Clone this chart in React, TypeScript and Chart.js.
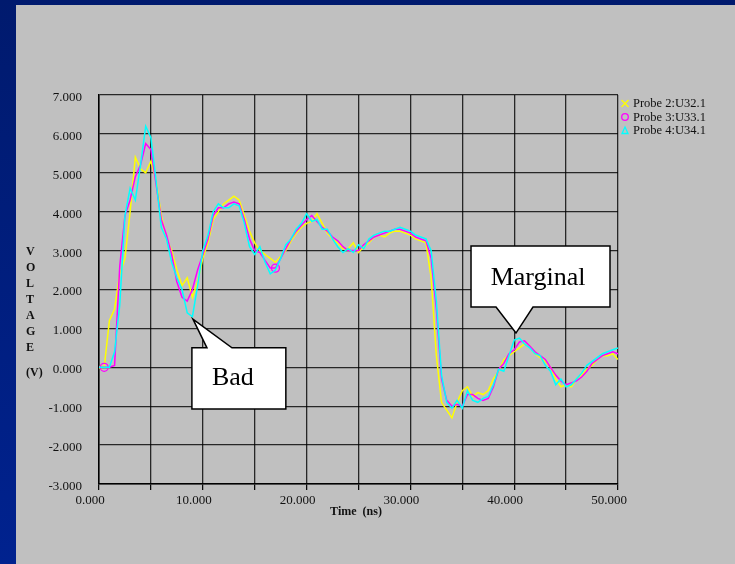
import React, { useEffect, useRef } from 'react';
import { Chart, registerables } from 'chart.js';
Chart.register(...registerables);

const FONT = '"Liberation Serif", "Times New Roman", serif';

const timeNs = [
  0, 0.5, 1, 1.5, 2, 2.5, 3, 3.5, 4, 4.5, 5, 5.5, 6, 6.5, 7, 7.5, 8, 8.5, 9, 9.5,
  10, 10.5, 11, 11.5, 12, 12.5, 13, 13.5, 14, 14.5, 15, 15.5, 16, 16.5, 17, 17.5, 18, 18.5, 19, 19.5,
  20, 20.5, 21, 21.5, 22, 22.5, 23, 23.5, 24, 24.5, 25, 25.5, 26, 26.5, 27, 27.5, 28, 28.5, 29, 29.5,
  30, 30.5, 31, 31.5, 32, 32.5, 33, 33.5, 34, 34.5, 35, 35.5, 36, 36.5, 37, 37.5, 38, 38.5, 39, 39.5,
  40, 40.5, 41, 41.5, 42, 42.5, 43, 43.5, 44, 44.5, 45, 45.5, 46, 46.5, 47, 47.5, 48, 48.5, 49, 49.5, 50,
];

const probe2 = [
  0.0, 0.0, 1.2, 1.5, 2.4, 2.8, 4.0, 5.4, 5.1, 5.0, 5.3, 4.8, 3.9, 3.3, 3.0, 2.5, 2.1, 2.3, 1.8, 2.2,
  2.8, 3.2, 3.8, 4.0, 4.2, 4.3, 4.4, 4.3, 3.9, 3.5, 3.2, 3.0, 2.9, 2.8, 2.7, 2.85, 3.0, 3.25, 3.45, 3.6,
  3.7, 3.75, 3.95, 3.7, 3.45, 3.3, 3.2, 3.05, 3.05, 3.2, 2.95, 3.1, 3.2, 3.35, 3.4, 3.35, 3.45, 3.5, 3.5, 3.45,
  3.4, 3.3, 3.25, 3.2, 2.3, 0.3, -0.9, -1.1, -1.3, -0.9, -0.6, -0.5, -0.75, -0.65, -0.7, -0.6, -0.3, -0.1, 0.2, 0.3,
  0.4, 0.5, 0.6, 0.55, 0.35, 0.25, 0.15, 0.0, -0.3, -0.5, -0.45, -0.5, -0.3, -0.2, -0.05, 0.05, 0.2, 0.3, 0.3, 0.35, 0.2,
];

const probe3 = [
  0.0, 0.0, 0.0, 0.05, 2.6, 3.9, 4.3, 4.9, 5.2, 5.75, 5.6, 4.7, 3.8, 3.4, 2.9, 2.2, 1.8, 1.7, 2.0, 2.5,
  2.9, 3.3, 3.9, 4.1, 4.1, 4.2, 4.25, 4.2, 3.8, 3.3, 3.0, 2.95, 2.75, 2.55, 2.55, 2.8, 3.05, 3.3, 3.5, 3.65,
  3.8, 3.9, 3.75, 3.6, 3.5, 3.35, 3.25, 3.1, 3.0, 3.0, 3.0, 3.15, 3.25, 3.35, 3.4, 3.45, 3.5, 3.55, 3.55, 3.5,
  3.45, 3.35, 3.3, 3.25, 2.8, 1.5, -0.3, -0.85, -1.0, -0.95, -1.0, -0.7, -0.7, -0.8, -0.85, -0.8, -0.5, -0.05, 0.1, 0.35,
  0.45, 0.65, 0.68, 0.55, 0.4, 0.3, 0.2, 0.0, -0.2, -0.35, -0.45, -0.4, -0.35, -0.25, -0.1, 0.1, 0.2, 0.3, 0.35, 0.4, 0.35,
];

const probe4 = [
  0.0, 0.0, 0.0, 0.4, 1.6, 3.9, 4.6, 4.3, 5.2, 6.2, 5.9, 4.8, 3.6, 3.3, 2.7, 2.3, 2.0, 1.4, 1.3, 2.1,
  3.0, 3.4, 4.0, 4.2, 4.1, 4.1, 4.2, 4.15, 3.7, 3.1, 2.9, 3.1, 2.7, 2.4, 2.5, 2.8, 3.15, 3.3, 3.55, 3.7,
  3.95, 3.75, 3.8, 3.55, 3.55, 3.3, 3.1, 2.95, 3.05, 2.95, 3.15, 3.05, 3.3, 3.4, 3.45, 3.5, 3.5, 3.55, 3.6, 3.55,
  3.5, 3.4, 3.35, 3.3, 3.0, 1.7, -0.2, -0.9, -1.05, -0.85, -1.05, -0.6, -0.85, -0.9, -0.8, -0.75, -0.45, -0.05, -0.1, 0.3,
  0.7, 0.75, 0.6, 0.5, 0.35, 0.3, 0.05, -0.1, -0.45, -0.3, -0.5, -0.45, -0.3, -0.15, 0.05, 0.15, 0.25, 0.35, 0.4, 0.45, 0.5,
];

const seriesNames = ['Probe 2:U32.1', 'Probe 3:U33.1', 'Probe 4:U34.1'];
const seriesColors = ['#ffff00', '#ff00ff', '#00ffff'];
const probe2MarkerIdx = [0];
const probe3MarkerIdx = [1, 34];

const yTitleLetters = ['V', 'O', 'L', 'T', 'A', 'G', 'E'];
const yTitleUnit = '(V)';
const xTitle = 'Time  (ns)';

const callouts = [
  { text: 'Bad', side: 'top', x0: 8.95, x1: 18.0, yTop: 0.5, yBot: -1.07, tipX: 9.05, tipY: 1.24, base0: 10.4, base1: 12.81, textX: 12.9, textY: -0.46 },
  { text: 'Marginal', side: 'bottom', x0: 35.84, x1: 49.23, yTop: 3.12, yBot: 1.55, tipX: 40.17, tipY: 0.88, base0: 38.25, base1: 41.81, textX: 42.3, textY: 2.12 },
];

const toPoints = (vals: number[]) => vals.map((v, i) => ({ x: timeNs[i], y: v }));

const overlay = {
  id: 'overlay',
  afterDatasetsDraw(chart: any) {
    const c = chart.ctx as CanvasRenderingContext2D;
    const xs = chart.scales.x;
    const ys = chart.scales.y;
    c.save();
    for (const a of callouts) {
      const L = xs.getPixelForValue(a.x0);
      const R = xs.getPixelForValue(a.x1);
      const T = ys.getPixelForValue(a.yTop);
      const B = ys.getPixelForValue(a.yBot);
      const b0 = xs.getPixelForValue(a.base0);
      const b1 = xs.getPixelForValue(a.base1);
      const tx = xs.getPixelForValue(a.tipX);
      const ty = ys.getPixelForValue(a.tipY);
      c.beginPath();
      if (a.side === 'top') {
        c.moveTo(L, T);
        c.lineTo(b0, T);
        c.lineTo(tx, ty);
        c.lineTo(b1, T);
        c.lineTo(R, T);
        c.lineTo(R, B);
        c.lineTo(L, B);
      } else {
        c.moveTo(L, T);
        c.lineTo(R, T);
        c.lineTo(R, B);
        c.lineTo(b1, B);
        c.lineTo(tx, ty);
        c.lineTo(b0, B);
        c.lineTo(L, B);
      }
      c.closePath();
      c.fillStyle = '#ffffff';
      c.fill();
      c.strokeStyle = '#000';
      c.lineWidth = 1.5;
      c.lineJoin = 'miter';
      c.stroke();
      c.fillStyle = '#000';
      c.font = `26px ${FONT}`;
      c.textAlign = 'center';
      c.textBaseline = 'alphabetic';
      c.fillText(a.text, xs.getPixelForValue(a.textX), ys.getPixelForValue(a.textY));
    }
    c.restore();
  },
  afterDraw(chart: any) {
    const c = chart.ctx as CanvasRenderingContext2D;
    const area = chart.chartArea;
    c.save();
    c.fillStyle = '#111';
    c.font = `bold 12px ${FONT}`;
    c.textAlign = 'left';
    c.textBaseline = 'middle';
    yTitleLetters.forEach((ch, i) => c.fillText(ch, 26, area.top + 157 + i * 16));
    c.fillText(yTitleUnit, 26, area.top + 278);
    c.textAlign = 'center';
    c.fillText(xTitle, 356, area.bottom + 28);
    c.font = `12.5px ${FONT}`;
    c.textAlign = 'left';
    seriesNames.forEach((name, i) => {
      const my = area.top + 8.5 + i * 13.5;
      const mx = area.right + 7;
      c.strokeStyle = seriesColors[i];
      c.lineWidth = 1.3;
      c.beginPath();
      if (i === 0) {
        c.moveTo(mx - 3.5, my - 3.5); c.lineTo(mx + 3.5, my + 3.5);
        c.moveTo(mx + 3.5, my - 3.5); c.lineTo(mx - 3.5, my + 3.5);
      } else if (i === 1) {
        c.arc(mx, my, 3.3, 0, Math.PI * 2);
      } else {
        c.moveTo(mx, my - 3.5); c.lineTo(mx + 3, my + 3); c.lineTo(mx - 3, my + 3); c.closePath();
      }
      c.stroke();
      c.fillStyle = '#111';
      c.fillText(name, area.right + 15, my + 0.5);
    });
    c.restore();
  },
};

export default function App() {
  const ref = useRef<HTMLCanvasElement>(null);
  useEffect(() => {
    document.body.style.margin = '0';
    const canvas = ref.current;
    if (!canvas) return;
    const tickFont = { family: FONT, size: 13 };
    const gridColor = 'rgba(0,0,0,0.8)';
    const chart = new Chart(canvas, {
      type: 'line',
      data: {
        datasets: [
          {
            label: seriesNames[0],
            data: toPoints(probe2),
            borderColor: seriesColors[0],
            borderWidth: 1.5,
            pointStyle: 'crossRot',
            pointRadius: (ctx: any) => (probe2MarkerIdx.includes(ctx.dataIndex) ? 4 : 0),
            pointBorderColor: seriesColors[0],
            pointBorderWidth: 1.3,
            pointBackgroundColor: 'transparent',
            tension: 0,
            order: 3,
          },
          {
            label: seriesNames[1],
            data: toPoints(probe3),
            borderColor: seriesColors[1],
            borderWidth: 1.5,
            pointStyle: 'circle',
            pointRadius: (ctx: any) => (probe3MarkerIdx.includes(ctx.dataIndex) ? 4 : 0),
            pointBorderColor: seriesColors[1],
            pointBorderWidth: 1.3,
            pointBackgroundColor: 'transparent',
            tension: 0,
            order: 2,
          },
          {
            label: seriesNames[2],
            data: toPoints(probe4),
            borderColor: seriesColors[2],
            borderWidth: 1.5,
            pointRadius: 0,
            tension: 0,
            order: 1,
          },
        ],
      },
      options: {
        responsive: false,
        animation: false,
        events: [],
        layout: { padding: { top: 95, right: 117, left: 0, bottom: 0 } },
        plugins: { legend: { display: false }, tooltip: { enabled: false } },
        scales: {
          x: {
            type: 'linear',
            min: 0,
            max: 50,
            afterFit: (s: any) => { s.height = 80; },
            ticks: {
              stepSize: 5,
              autoSkip: false,
              maxRotation: 0,
              labelOffset: -9,
              padding: 3,
              color: '#111',
              font: tickFont,
              callback: (v: any) => (Math.round(v) % 10 === 0 ? Number(v).toFixed(3) : ''),
            },
            grid: { color: gridColor, lineWidth: 1.3, tickLength: 6, tickColor: '#000', tickWidth: 1.2 },
            border: { color: '#000', width: 1.5 },
          },
          y: {
            type: 'linear',
            min: -3,
            max: 7,
            afterFit: (s: any) => { s.width = 99; },
            ticks: {
              stepSize: 1,
              padding: 17,
              labelOffset: 2.5,
              color: '#111',
              font: tickFont,
              callback: (v: any) => Number(v).toFixed(3),
            },
            grid: { color: gridColor, lineWidth: 1.3, drawTicks: false },
            border: { color: '#000', width: 1.5 },
          },
        },
      },
      plugins: [overlay],
    });
    return () => chart.destroy();
  }, []);

  return (
    <div style={{ position: 'absolute', left: 0, top: 0, width: 735, height: 564, background: 'linear-gradient(180deg, #001a6e 0%, #00228f 100%)', overflow: 'hidden' }}>
      <div style={{ position: 'absolute', left: 16, top: 5, width: 719, height: 559, background: '#c0c0c0' }} />
      <canvas ref={ref} width={735} height={564} style={{ position: 'absolute', left: 0, top: 0, width: 735, height: 564 }} />
    </div>
  );
}
